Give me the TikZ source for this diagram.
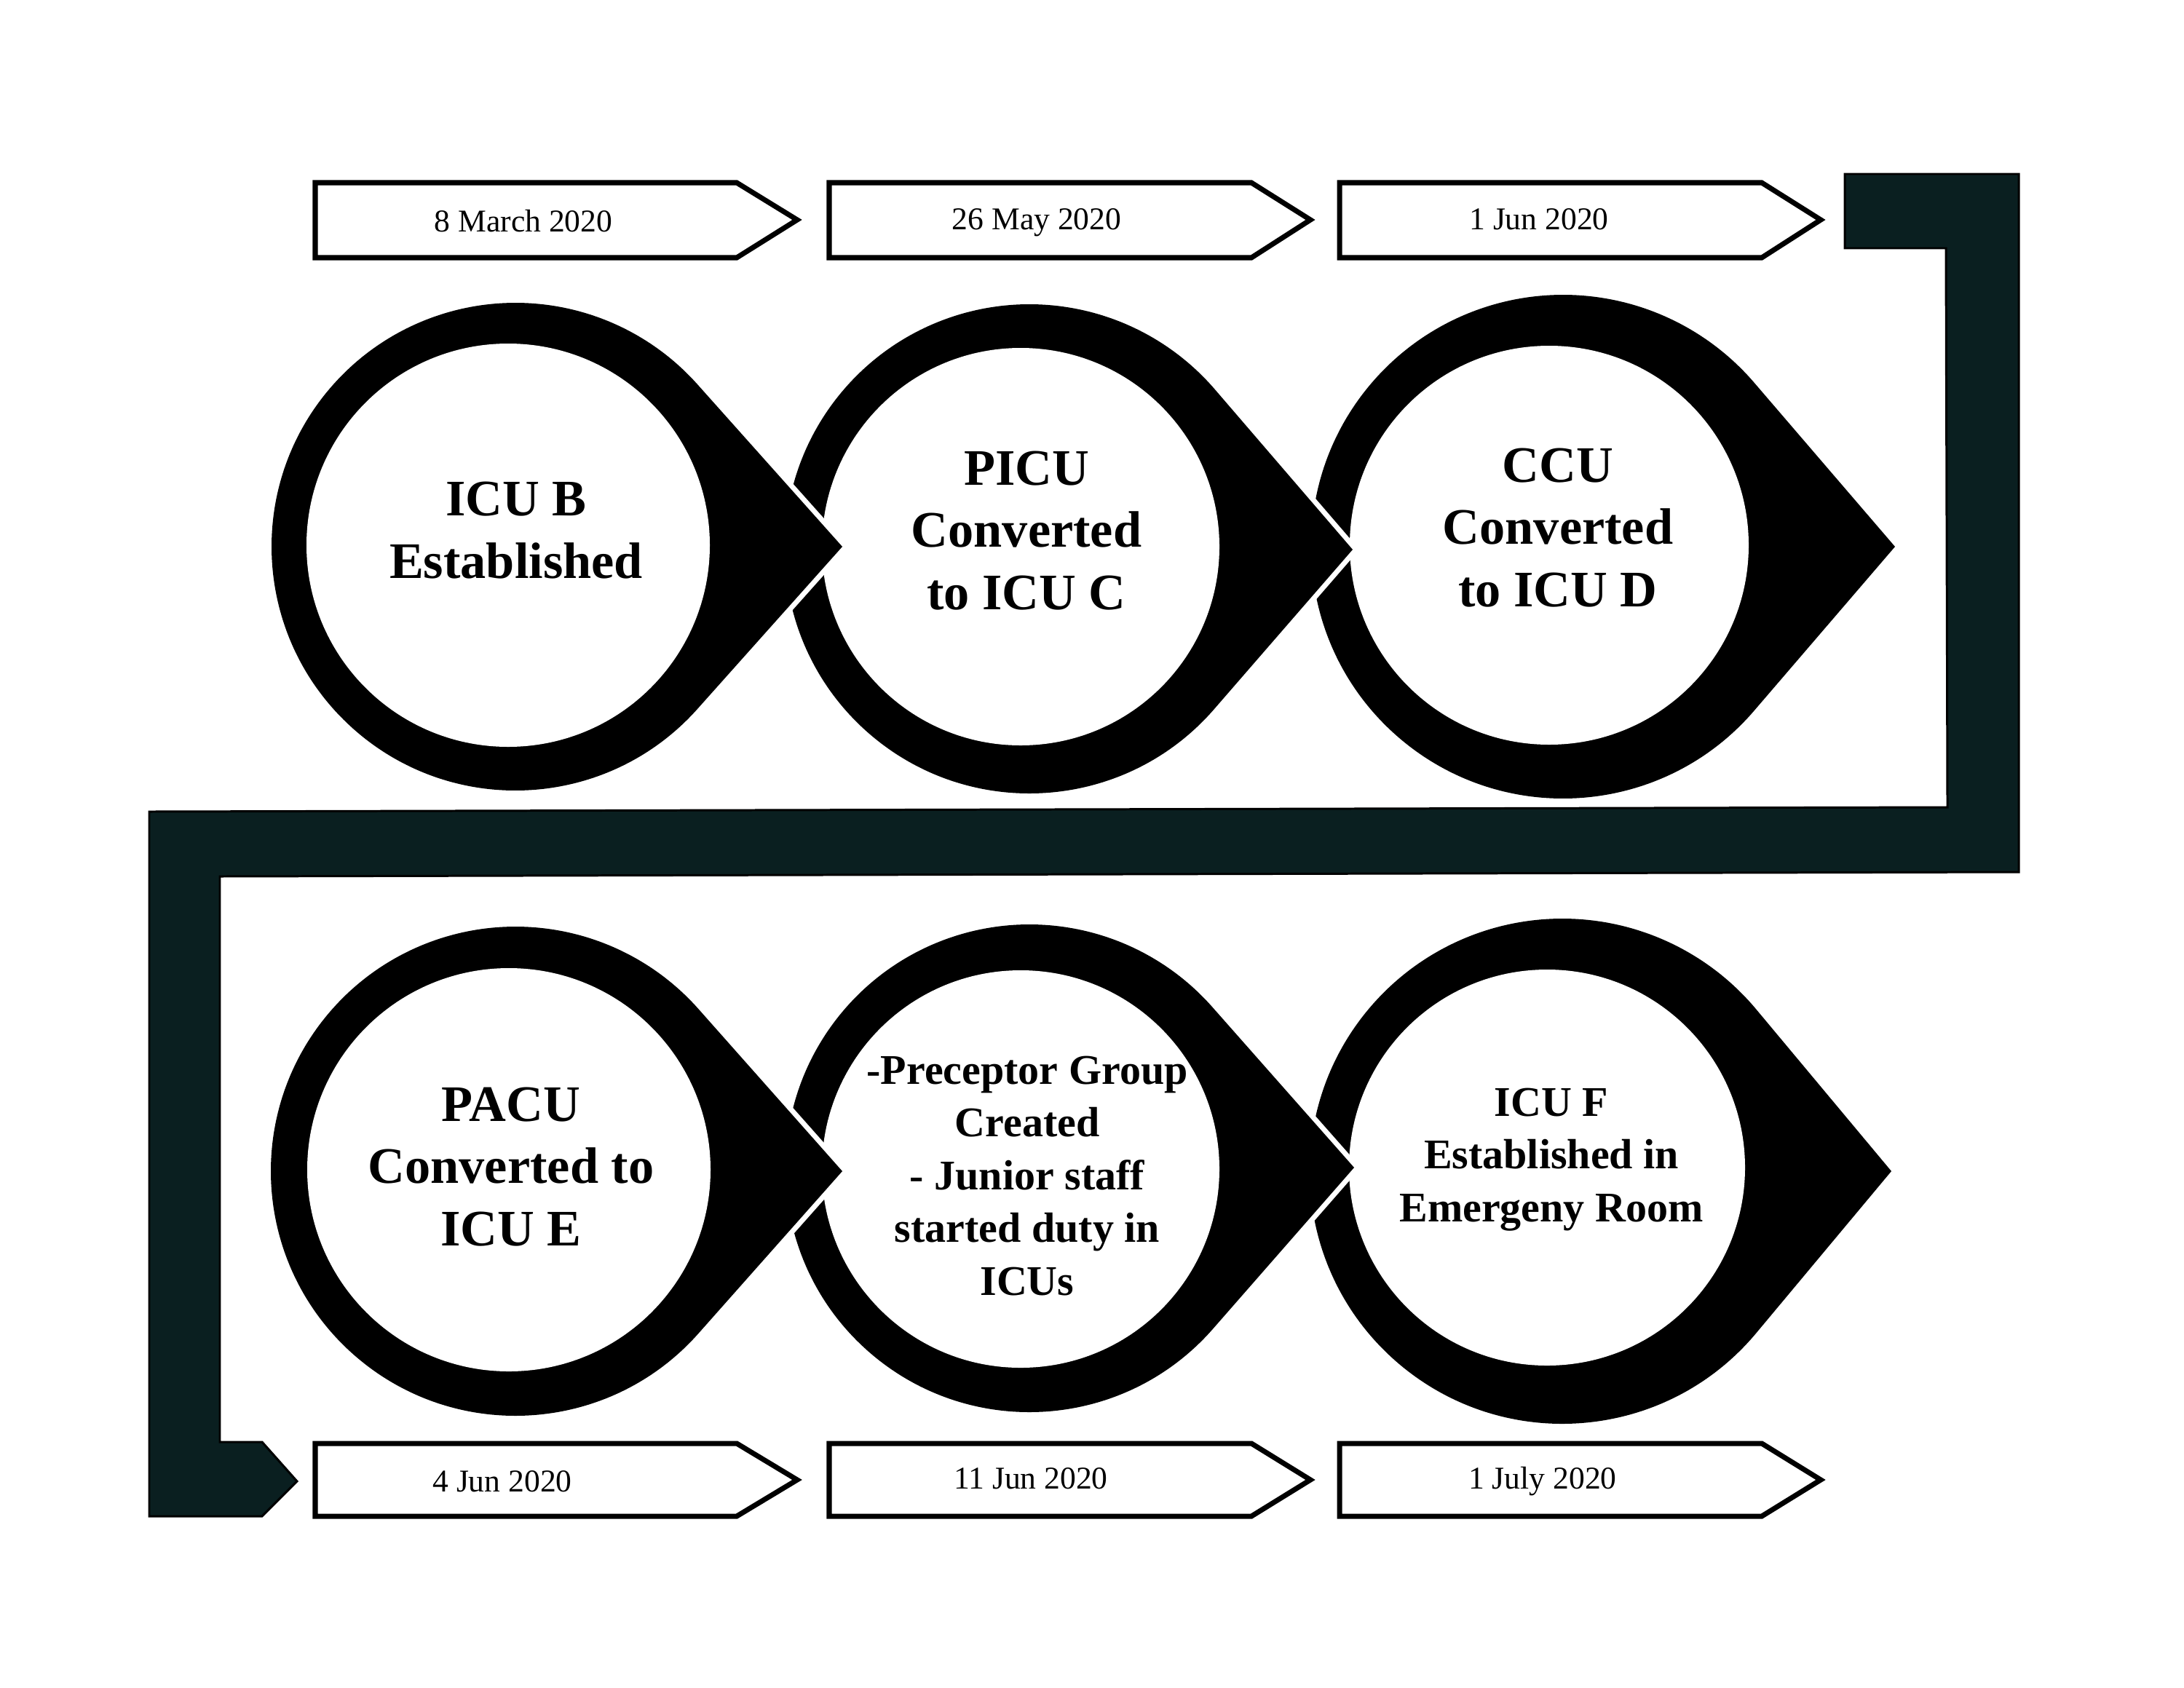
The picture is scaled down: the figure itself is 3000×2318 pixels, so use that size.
\documentclass[tikz,border=0pt]{standalone}
\usepackage{fontspec}
\setmainfont{Liberation Serif}
\usetikzlibrary{calc}
\definecolor{bandcol}{RGB}{10,31,32}
\tikzset{
  datebox/.style={draw=black, line width=2pt, fill=white, line join=miter},
  datetext/.style={font=\fontsize{12.4}{15}\selectfont, anchor=base, inner sep=0pt},
  bigtext/.style={font=\bfseries\fontsize{20}{24.2}\selectfont, align=center, anchor=base, inner sep=0pt},
  midtext/.style={font=\bfseries\fontsize{16.5}{20.6}\selectfont, align=center, anchor=base, inner sep=0pt},
  band/.style={fill=bandcol, draw=black, line width=0.85pt, line join=miter},
  tear/.style={fill=black, preaction={draw=white, line width=4pt, line join=round}},
}
% #1 ox #2 oy #3 ro #4 tx #5 ty #6 ix #7 iy #8 ri #9 name
\newcommand\teardrop[9]{%
  \pgfmathsetmacro\tdA{atan2((#5)-(#2),(#4)-(#1))}%
  \pgfmathsetmacro\tdD{veclen((#4)-(#1),(#5)-(#2))}%
  \pgfmathsetmacro\tdT{acos((#3)/\tdD)}%
  \pgfmathsetmacro\tdS{\tdA+\tdT}%
  \pgfmathsetmacro\tdE{\tdA+360-\tdT}%
  \fill[tear] (#4,#5) -- ($(#1,#2)+(\tdS:#3)$) arc[start angle=\tdS, end angle=\tdE, radius=#3] -- cycle;
  \fill[white] (#6,#7) circle[radius=#8];
  \coordinate (#9) at (#6,#7);
}
% #1 left #2 flat #3 tip #4 top #5 bottom #6 mid
\newcommand\datearrow[6]{%
  \draw[datebox] (#1,#4) -- (#2,#4) -- (#3,#6) -- (#2,#5) -- (#1,#5) -- cycle;
}
\begin{document}
\begin{tikzpicture}[x=0.01cm,y=-0.01cm]
\useasboundingbox (0,0) rectangle (3000,2318);

% connecting band
\draw[band] (2534,239) -- (2773,239) -- (2773,1198) -- (302,1204) -- (302,1981)
  -- (360,1981) -- (408,2035) -- (360,2083) -- (205,2083) -- (205,1115)
  -- (2675,1109) -- (2673,341) -- (2534,341) -- cycle;

% top date arrows
\datearrow{433}{1012}{1095}{251}{354}{302}
\datearrow{1139}{1719}{1800}{251}{354}{302}
\datearrow{1840}{2420}{2501}{251}{354}{302}
% bottom date arrows
\datearrow{433}{1012}{1095}{1983}{2083}{2033}
\datearrow{1139}{1719}{1800}{1983}{2083}{2033}
\datearrow{1840}{2420}{2501}{1983}{2083}{2033}

\node[datetext] (d1) at (719,318) {8 March 2020};
\node[datetext] (d2) at (1424,315) {26 May 2020};
\node[datetext] (d3) at (2114,315) {1 Jun 2020};
\node[datetext] (d4) at (690,2049) {4 Jun 2020};
\node[datetext] (d5) at (1416,2045) {11 Jun 2020};
\node[datetext] (d6) at (2119,2045) {1 July 2020};

% top row teardrops (right to left so tips overlap)
\teardrop{2147}{751}{346}{2603}{751}{2128}{749}{274}{c3}
\teardrop{1414}{754}{336}{1858}{755}{1402}{751}{273}{c2}
\teardrop{708}{751}{335}{1157}{751}{698}{749}{277}{c1}
% bottom row teardrops
\teardrop{2146}{1609}{347}{2598}{1609}{2125}{1604}{272}{c6}
\teardrop{1414}{1605}{335}{1860}{1604}{1402}{1606}{273}{c5}
\teardrop{708}{1609}{336}{1157}{1609}{699}{1607}{277}{c4}

% multi-line nodes: base anchor = baseline of the last line
\node[bigtext] (t1) at (709,794) {ICU B\\Established};
\node[bigtext] (t2) at (1410,837) {PICU\\Converted\\to ICU C};
\node[bigtext] (t3) at (2140,833) {CCU\\Converted\\to ICU D};
\node[bigtext] (t4) at (702,1711) {PACU\\Converted to\\ICU E};
\node[midtext] (t5) at (1411,1779) {-Preceptor Group\\Created\\- Junior staff\\started duty in\\ICUs};
\node[midtext] (t6) at (2131,1678) {ICU F\\Established in\\Emergeny Room};
\end{tikzpicture}
\end{document}
